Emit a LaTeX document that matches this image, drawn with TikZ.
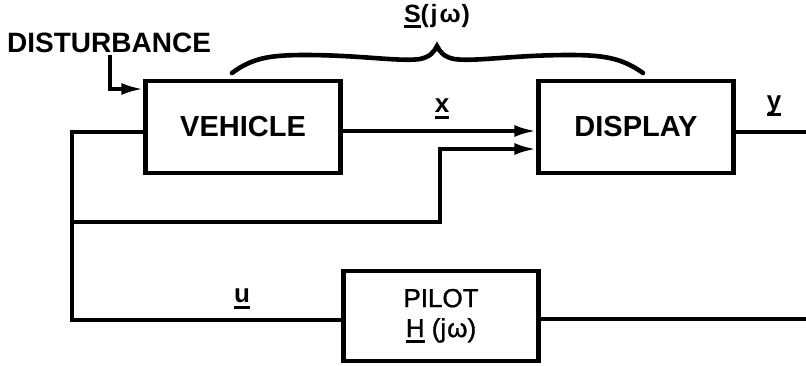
\documentclass[tikz,border=0pt]{standalone}
\usepackage{fontspec}
\setmainfont{Liberation Sans}
\newfontfamily\pilotfont[FakeBold=1.2]{Liberation Sans}
\usetikzlibrary{arrows.meta}
\newcommand{\myul}[1]{\leavevmode\setbox0\hbox{#1}\rlap{\rule[-6pt]{\wd0}{2.8pt}}\copy0}
\begin{document}
\begin{tikzpicture}[x=1pt,y=-1pt,
  blk/.style={draw, line width=4.4pt, minimum width=195pt, minimum height=92pt, inner sep=0pt, font=\bfseries\fontsize{29}{32}\selectfont},
  wire/.style={line width=3.6pt},
  arr/.style={wire, -{Latex[length=22pt,width=12pt]}},
  lab/.style={font=\bfseries\fontsize{26}{28}\selectfont, inner sep=0pt}]
\useasboundingbox[fill=white] (0,0) rectangle (806,365);
% blocks
\node[blk] (veh) at (243,127) {VEHICLE};
\node[blk] (disp) at (636,127) {DISPLAY};
\node[blk, minimum height=90pt, font=\pilotfont\fontsize{26}{30}\selectfont, align=center] (pilot) at (441,316) {PILOT\\\myul{H}\ (j\kern1ptω)};
% helper coordinates
\coordinate (yd) at (0,89);
\coordinate (dx) at (110,0);
\coordinate (xl) at (0,131);
\coordinate (yl) at (0,132);
\coordinate (ul) at (0,320);
\coordinate (pl) at (0,319);
\coordinate (fbl) at (72,0);
\coordinate (vl) at (0,132);
\coordinate (br) at (0,222);
\coordinate (brx) at (440,0);
\coordinate (a2) at (0,149);
\coordinate (rightY) at (806,132);
\coordinate (rightP) at (806,319);
% labels
\node[lab, font=\bfseries\fontsize{28}{30}\selectfont, anchor=west, inner sep=2pt] (dist) at (5,43) {DISTURBANCE};
\node[lab] (xlab) at (442,109) {\myul{x}};
\node[lab] (ylab) at (774,106) {\myul{y}};
\node[lab] (ulab) at (242,299) {\myul{u}};
\node[lab, font=\bfseries\fontsize{25}{27}\selectfont] (slab) at (437,16) {\myul{S}(\kern1.5ptj\kern2ptω\kern1pt)};
% brace
\draw[line width=4.6pt, line cap=round] (232,73) .. controls (252,58) and (270,55) .. (305,55)
  .. controls (360,55) and (400,62) .. (420,59) .. controls (430,57) and (434,52) .. (437,46)
  .. controls (440,52) and (444,57) .. (454,59) .. controls (474,62) and (514,55) .. (569,55)
  .. controls (604,55) and (622,58) .. (643,73);
% connectors
\draw[arr] (dist.south -| dx) |- (veh.west |- yd);
\draw[arr] (veh.east |- xl) -- (disp.west |- xl);
\draw[wire] (disp.east |- yl) -- (rightY);
\draw[wire] (rightP) -- (pilot.east |- pl);
\draw[wire] (pilot.west |- ul) -- (fbl |- ul) -- (fbl |- vl) -- (veh.west |- vl);
\draw[arr] (fbl |- br) -| (brx |- a2) -- (disp.west |- a2);
\end{tikzpicture}
\end{document}
